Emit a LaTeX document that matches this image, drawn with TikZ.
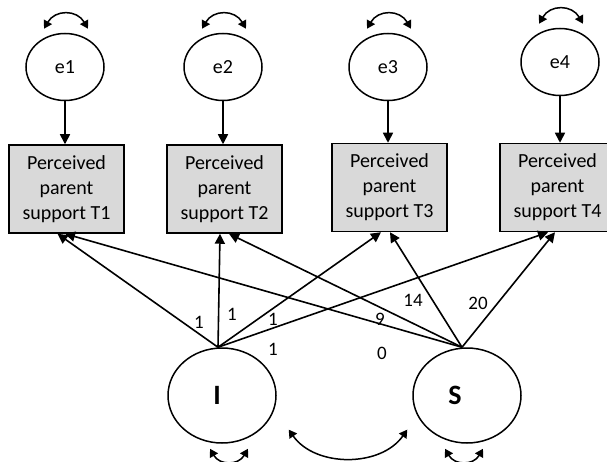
\documentclass[tikz,border=0pt]{standalone}
\usepackage{fontspec}
\setmainfont{Carlito}
\usetikzlibrary{arrows.meta,shapes.geometric}
\definecolor{boxgray}{RGB}{217,217,217}
\begin{document}
\begin{tikzpicture}[x=1pt, y=1pt,
	obs/.style={draw, line width=1.5pt, fill=boxgray, minimum width=115pt, minimum height=88pt, align=center, font=\fontsize{20}{25}\selectfont},
	err/.style={draw, ellipse, line width=1.5pt, minimum width=78pt, minimum height=67pt, font=\fontsize{20}{24}\selectfont},
	lat/.style={draw, ellipse, line width=1.5pt, minimum width=108pt, minimum height=95pt},
	latname/.style={font=\bfseries\fontsize{28}{32}\selectfont},
	regr/.style={-{Triangle[length=10pt,width=10pt]}, line width=1.6pt},
	covar/.style={{Triangle[length=8pt,width=9pt]}-{Triangle[length=8pt,width=9pt]}, line width=1.5pt},
	coef/.style={font=\fontsize{19}{22}\selectfont, inner sep=0pt}]
	\useasboundingbox (0,0) rectangle (607,461);
	% error terms and indicators
	\node[err] (e1) at (65,394) {e1};
	\node[err] (e2) at (223,394) {e2};
	\node[err] (e3) at (388,394) {e3};
	\node[err] (e4) at (560,399) {e4};
	\node[obs] (T1) at (66.5,272) {Perceived\\parent\\support T1};
	\node[obs] (T2) at (224.5,272) {Perceived\\parent\\support T2};
	\node[obs] (T3) at (389.5,273.5) {Perceived\\parent\\support T3};
	\node[obs] (T4) at (557.5,273.5) {Perceived\\parent\\support T4};
	\foreach \n in {1,...,4} {
		\draw[regr] (e\n.south) -- (e\n.south |- T\n.north);
		\draw[covar] ([shift={(-21,4)}]e\n.north) to[out=60, in=120, looseness=1.3] ([shift={(23,4)}]e\n.north);
	}
	% growth factors
	\node[lat, label={[latname, xshift=-5pt]center:I}] (I) at (222,65.5) {};
	\node[lat, label={[latname, xshift=-12pt]center:S}] (S) at (467,65.5) {};
	\foreach \t/\a/\b in {T1/-9/-1.5, T2/-4.5/4.5, T3/-8.5/0.5, T4/-9.5/-2.5} {
		\draw[regr] ([xshift=-4pt]I.north) -- ([xshift=\a pt]\t.south);
		\draw[regr] ([xshift=-5pt]S.north) -- ([xshift=\b pt]\t.south);
	}
	\draw[covar] ([xshift=28pt]I.south east) to[bend right=55] ([xshift=-21pt]S.south west);
	\draw[covar] ([shift={(-12,-5)}]I.south) to[out=-60, in=-120, looseness=1.3] ([shift={(26,-5)}]I.south);
	\draw[covar] ([shift={(-22,-5)}]S.south) to[out=-60, in=-120, looseness=1.3] ([shift={(16,-5)}]S.south);
	% loadings
	\node[coef] (lI1) at (199,139) {1};
	\node[coef] (lI2) at (232,147) {1};
	\node[coef] (lI3) at (273,142) {1};
	\node[coef] (lI4) at (273,112) {1};
	\node[coef] (lS1) at (382,108) {0};
	\node[coef] (lS2) at (380,142) {9};
	\node[coef] (lS3) at (413,161) {14};
	\node[coef] (lS4) at (478,158) {20};
\end{tikzpicture}
\end{document}
